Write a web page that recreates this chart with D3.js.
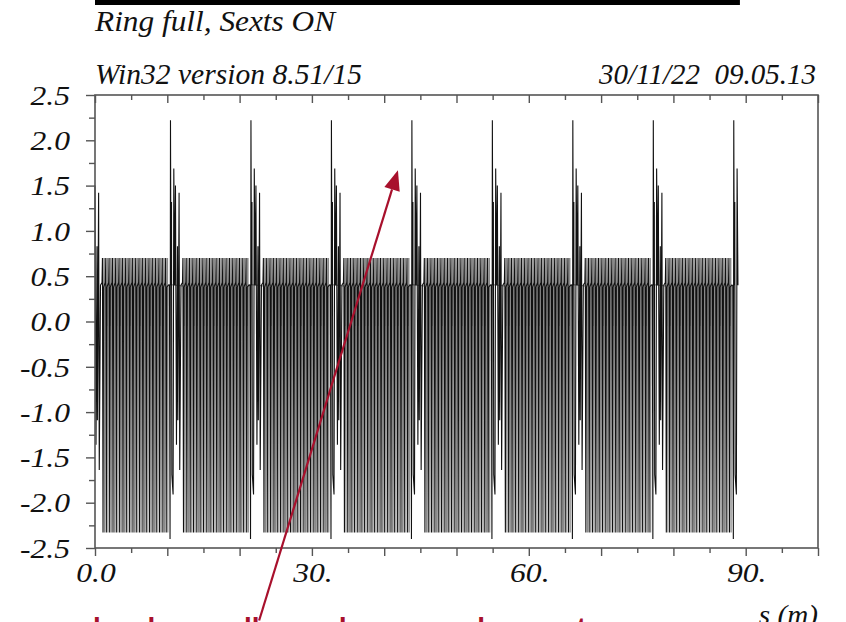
<!DOCTYPE html>
<html><head><meta charset="utf-8">
<script src="https://cdn.jsdelivr.net/npm/d3@7"></script>
<style>
html,body{margin:0;padding:0;background:#fff;}
svg{display:block;}
.serif{font-family:"Liberation Serif","Times New Roman",serif;font-style:italic;fill:#111;}
</style></head>
<body><svg id="chart" width="846" height="622"></svg>
<script>
// ---- data ----
const headerTitle = "Ring full, Sexts ON";
const headerLeft = "Win32 version 8.51/15";
const headerRight = "30/11/22\u00a0\u00a009.05.13";
const xLabel = "s (m)";
const xDomain = [0, 100];
const yDomain = [-2.5, 2.5];
const xTickLabels = [0, 30, 60, 90];
const yTickLabels = [2.5, 2.0, 1.5, 1.0, 0.5, 0.0, -0.5, -1.0, -1.5, -2.0, -2.5];
// lattice: 8 identical superperiods; ring length and period boundaries (m)
const ringLength = 89.0;
const boundaries = [-0.69, 10.44, 21.57, 32.70, 43.83, 54.96, 66.09, 77.22, 88.35];
// spike cluster around each period boundary: offset (m) and value
const clusterDs  = [-0.30, -0.14, -0.06, 0.00, 0.07, 0.14, 0.19, 0.36, 0.46, 0.58, 0.69, 0.83, 0.97, 1.02, 1.19, 1.28, 1.45];
const clusterVal = [ 0.40,  0.40, -2.40, 2.22, 0.40, 1.32, -1.69, -1.91, 1.69, 0.40, 1.50, -1.36, 0.83, -1.09, 1.42, -1.64, 0.40];
// regular cells between clusters: start offset, count and spacing (m)
const cellStart = 1.66;
const cellCount = 20;
const cellSpacing = 0.46;
// main (dark) stroke of each cell
const cellDs  = [0.00, 0.06, 0.14, 0.22];
const cellVal = [0.43, 0.70, -2.33, 0.38];
// secondary (fine) strokes between the main ones
const fineDs  = [0.23, 0.26, 0.29, 0.32, 0.36, 0.40];
const fineVal = [0.39, 0.70, -0.05, 0.70, -2.33, 0.41];
// red annotation text (only the top of it is visible)
const noteText = "low beam all round on some bumps to";
const arrowTip = [41.9, 1.67];
const arrowBase = [22.7, -3.3];

// ---- build the traced lines from the read arrays ----
function build(withCluster, ds, vals) {
  const pts = [];
  boundaries.forEach(b => {
    if (withCluster) clusterDs.forEach((d, i) => pts.push([b + d, clusterVal[i]]));
    for (let c = 0; c < cellCount; c++) {
      ds.forEach((d, i) => pts.push([b + cellStart + c * cellSpacing + d, vals[i]]));
    }
  });
  return pts.filter(p => p[0] >= 0 && p[0] <= ringLength).sort((a, b) => a[0] - b[0]);
}
const mainLine = build(true, cellDs, cellVal);
const fineLine = build(false, fineDs, fineVal);

// ---- drawing ----
const svg = d3.select("#chart");
const m = {left: 95, right: 818, top: 95, bottom: 548};
const x = d3.scaleLinear().domain(xDomain).range([m.left, m.right]);
const y = d3.scaleLinear().domain(yDomain).range([m.bottom, m.top]);

function stretch(sel, f) {
  sel.each(function () {
    const w = this.getComputedTextLength();
    this.setAttribute("textLength", w * f);
    this.setAttribute("lengthAdjust", "spacingAndGlyphs");
  });
}

// top black bar
svg.append("rect").attr("x", x(0)).attr("y", 0).attr("width", x(89.2) - x(0)).attr("height", 5).attr("fill", "#000");

// header texts
stretch(svg.append("text").attr("class", "serif").attr("x", 95).attr("y", 31).style("font-size", "29px").text(headerTitle), 1.08);
stretch(svg.append("text").attr("class", "serif").attr("x", 95).attr("y", 84).style("font-size", "29px").text(headerLeft), 1.02);
svg.append("text").attr("class", "serif").attr("x", 816).attr("y", 84).attr("text-anchor", "end").style("font-size", "29px").text(headerRight);

// data lines
const lineGen = d3.line().x(d => x(d[0])).y(d => y(d[1]));
svg.append("path").datum(fineLine).attr("d", lineGen)
  .attr("fill", "none").attr("stroke", "#8a8a8a").attr("stroke-width", 1.2);
svg.append("path").datum(mainLine).attr("d", lineGen)
  .attr("fill", "none").attr("stroke", "#111").attr("stroke-width", 1.1);

// frame
const frameColor = "#555";
svg.append("rect").attr("x", m.left).attr("y", m.top).attr("width", m.right - m.left).attr("height", m.bottom - m.top)
  .attr("fill", "none").attr("stroke", frameColor).attr("stroke-width", 1.6);

// bottom axis (outward ticks)
const xMinor = d3.range(0, 101, 5);
const gB = svg.append("g").attr("transform", `translate(0,${m.bottom})`)
  .call(d3.axisBottom(x).tickValues(xMinor).tickSizeOuter(0).tickFormat(""));
gB.select(".domain").remove();
gB.selectAll(".tick line").attr("stroke", frameColor).attr("stroke-width", 1.4).attr("y2", d => d % 10 === 0 ? 8 : 5);

// top axis (inward ticks)
const gT = svg.append("g").attr("transform", `translate(0,${m.top})`)
  .call(d3.axisTop(x).tickValues(xMinor).tickSizeOuter(0).tickFormat(""));
gT.select(".domain").remove();
gT.selectAll(".tick line").attr("stroke", frameColor).attr("stroke-width", 1.4).attr("y2", d => d % 10 === 0 ? 8 : 5);

// left axis (outward ticks)
const yMinor = d3.range(-2.5, 2.51, 0.25);
const gL = svg.append("g").attr("transform", `translate(${m.left},0)`)
  .call(d3.axisLeft(y).tickValues(yMinor).tickSizeOuter(0).tickFormat(""));
gL.select(".domain").remove();
gL.selectAll(".tick line").attr("stroke", frameColor).attr("stroke-width", 1.4)
  .attr("x2", d => Math.abs(Math.round(d * 2) - d * 2) < 1e-6 ? -9 : -6);

// y labels
const yl = svg.append("g").selectAll("text").data(yTickLabels).join("text")
  .attr("class", "serif").attr("x", 70).attr("y", d => y(d)).attr("dy", "0.36em")
  .attr("text-anchor", "end").style("font-size", "27px")
  .text(d => (d < 0 ? "-" : "") + Math.abs(d).toFixed(1));
stretch(yl, 1.17);

// x labels
const xl = svg.append("g").selectAll("text").data(xTickLabels).join("text")
  .attr("class", "serif").attr("x", d => x(d) + 1).attr("y", 582)
  .attr("text-anchor", "middle").style("font-size", "27px")
  .text(d => d === 0 ? "0.0" : d + ".");
stretch(xl, 1.17);

const xt = svg.append("text").attr("class", "serif").attr("x", 818).attr("y", 624)
  .attr("text-anchor", "end").style("font-size", "27px").text(xLabel);
stretch(xt, 1.08);

// red annotation arrow
const red = "#a8102c";
const tx = x(arrowTip[0]), ty = y(arrowTip[1]);
const bx = x(arrowBase[0]), by = y(arrowBase[1]);
const ang = Math.atan2(ty - by, tx - bx);
const hl = 20, hw = 8;
const hx = tx - hl * Math.cos(ang), hy = ty - hl * Math.sin(ang);
svg.append("line").attr("x1", bx).attr("y1", by).attr("x2", hx).attr("y2", hy)
  .attr("stroke", red).attr("stroke-width", 2.2);
svg.append("path").attr("fill", red).attr("d",
  `M${tx},${ty}L${hx + hw * Math.sin(ang)},${hy - hw * Math.cos(ang)}L${hx - hw * Math.sin(ang)},${hy + hw * Math.cos(ang)}Z`);

// red note text (cut by the bottom edge, as in the reference)
svg.append("text").attr("x", 93).attr("y", 637)
  .style("font-family", "'Liberation Sans', Arial, sans-serif").style("font-weight", "bold")
  .style("font-size", "28px").attr("fill", red).text(noteText);
</script>
</body></html>
